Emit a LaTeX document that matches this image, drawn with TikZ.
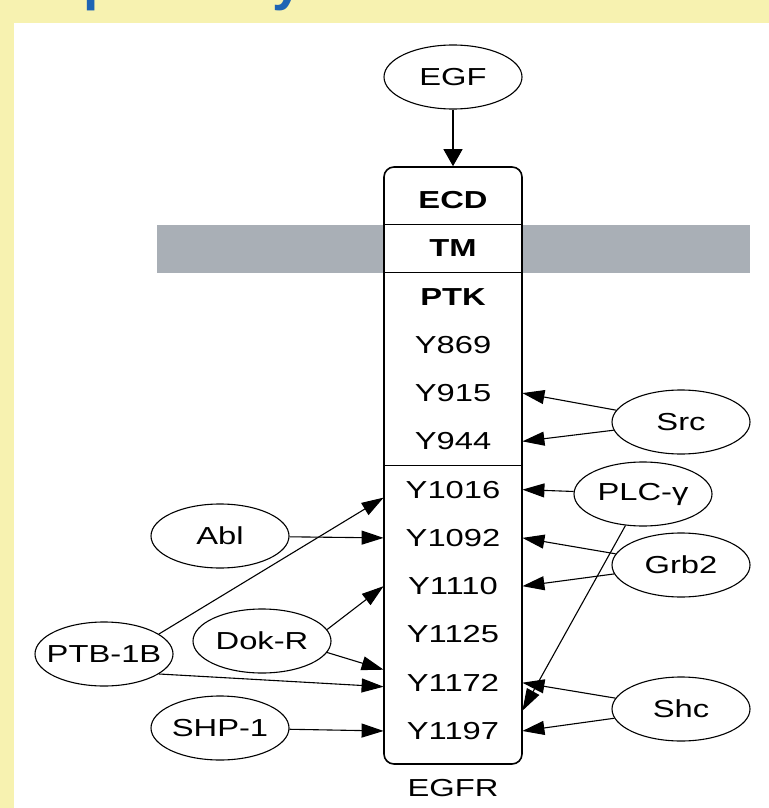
\documentclass[tikz,border=0pt]{standalone}
\usepackage{fontspec}
\setmainfont{Liberation Sans}[FakeStretch=1.33]
\newfontfamily\titlefont{Liberation Sans}
\usetikzlibrary{shapes.geometric, arrows.meta, positioning, calc}
\definecolor{cPanel}{RGB}{247,242,176}
\definecolor{cMembrane}{RGB}{169,175,182}
\definecolor{cTitle}{RGB}{30,100,180}
\tikzset{
	protein/.style={ellipse, draw=black, line width=0.55pt, fill=white, minimum width=69pt, minimum height=32pt, inner xsep=-6pt, inner ysep=0pt},
	site/.style={minimum width=69pt, minimum height=20pt, inner sep=0pt},
	bind/.style={-{Triangle[length=11pt, width=7pt]}, line width=0.55pt},
	egfbind/.style={-{Triangle[length=8.5pt, width=9.5pt]}, line width=0.6pt},
}
\begin{document}
\begin{tikzpicture}[x=0.5pt, y=-0.5pt, font=\fontsize{12.3pt}{14pt}\selectfont]
	\useasboundingbox (0,0) rectangle (769,808);
	% frame and title
	\fill[cPanel] (0,0) rectangle (769,808);
	\fill[white] (14,23) rectangle (769,808);
	\begin{scope}
		\clip (0,0) rectangle (769,23);
		\node[anchor=base west, inner sep=0pt, text=cTitle, font=\titlefont\bfseries\fontsize{27.5pt}{30pt}\selectfont] (title) at (83,0) {pathway};
	\end{scope}
	% membrane
	\fill[cMembrane] (157,225) rectangle (750,273);
	% receptor
	\node[draw, line width=0.8pt, rounded corners=5pt, fill=white, minimum width=69pt, minimum height=298.5pt, inner sep=0pt] (egfr) at (453,465.5) {};
	\node[below=7pt of egfr, inner sep=0pt] (egfrlabel) {EGFR};
	\foreach \name/\txt [count=\i from 0] in {ecd/\textbf{ECD}, tm/\textbf{TM}, ptk/\textbf{PTK}, y869/Y869, y915/Y915, y944/Y944, y1016/Y1016, y1092/Y1092, y1110/Y1110, y1125/Y1125, y1172/Y1172, y1197/Y1197}
		\node[site] (\name) at (453,{200+48.27*\i}) {\txt};
	\draw[line width=0.6pt] ($(ecd.west)!0.5!(tm.west)$) -- ($(ecd.east)!0.5!(tm.east)$);
	\draw[line width=0.6pt] ($(tm.west)!0.5!(ptk.west)$) -- ($(tm.east)!0.5!(ptk.east)$);
	\draw[line width=0.6pt] ($(y944.west)!0.5!(y1016.west)$) -- ($(y944.east)!0.5!(y1016.east)$);
	% binding partners
	\node[protein] (egf) at (453,77) {EGF};
	\node[protein] (src) at (681,422) {Src};
	\node[protein] (plc) at (643,494) {PLC-γ};
	\node[protein] (grb) at (681,565) {Grb2};
	\node[protein] (shc) at (681,709) {Shc};
	\node[protein] (abl) at (220,536) {Abl};
	\node[protein] (dok) at (262,641) {Dok-R};
	\node[protein] (ptb) at (104,654) {PTB-1B};
	\node[protein] (shp) at (220,728) {SHP-1};
	% arrows
	\draw[egfbind] (egf) -- (egfr);
	\draw[bind] (src) -- (y915.east);
	\draw[bind] (src) -- (y944.east);
	\draw[bind] (plc) -- (y1016.east);
	\draw[bind] (plc) -- ($(y1172.east)+(0,28)$);
	\draw[bind] (grb) -- (y1092.east);
	\draw[bind] (grb) -- (y1110.east);
	\draw[bind] (shc) -- (y1172.east);
	\draw[bind] (shc) -- (y1197.east);
	\draw[bind] (abl) -- (y1092.west);
	\draw[bind] (ptb.20) -- ($(y1016.west)+(0,8)$);
	\draw[bind] (ptb.-20) -- ($(y1172.west)+(0,4)$);
	\draw[bind] (dok.10) -- (y1110.west);
	\draw[bind] (dok.-10) -- ($(y1172.west)+(0,-13)$);
	\draw[bind] (shp) -- (y1197.west);
\end{tikzpicture}
\end{document}
